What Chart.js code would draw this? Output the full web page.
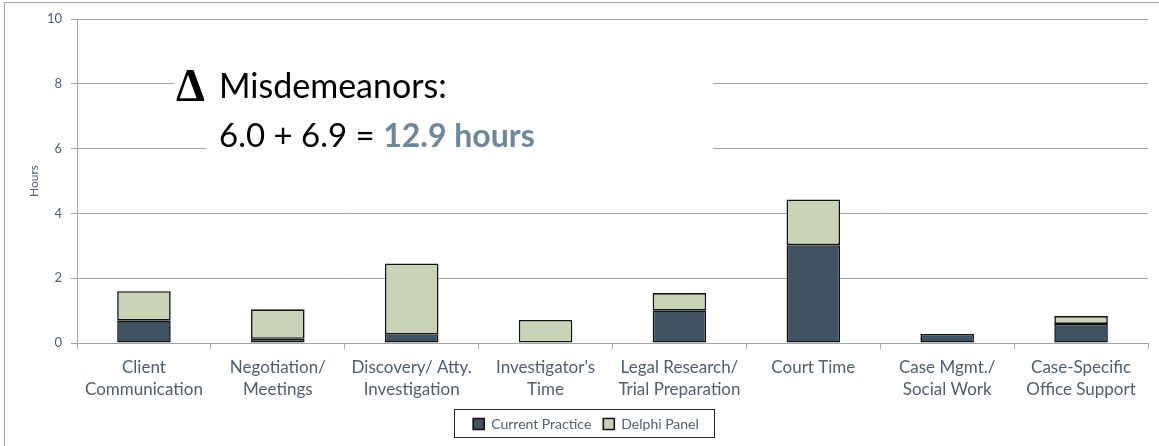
<!DOCTYPE html>
<html><head><meta charset="utf-8">
<script src="https://cdn.jsdelivr.net/npm/chart.js@4"></script>
<style>html,body{margin:0;padding:0;background:#fff;overflow:hidden}canvas{display:block}</style>
</head><body>
<canvas id="c" width="1159" height="446"></canvas>
<script>
const categories = [["Client","Communication"],["Negotiation/","Meetings"],["Discovery/ Atty.","Investigation"],["Investigator's","Time"],["Legal Research/","Trial Preparation"],["Court Time"],["Case Mgmt./","Social Work"],["Case-Specific","Office Support"]];
const currentPractice = [0.70, 0.13, 0.27, 0.00, 1.01, 3.02, 0.28, 0.59];
const delphiPanel     = [0.90, 0.91, 2.18, 0.71, 0.53, 1.41, -0.05, 0.24];
const seriesNames = ["Current Practice", "Delphi Panel"];
const yMin = 0, yMax = 10, yStep = 2;
const noteTitle = "Misdemeanors:";
const noteSum = "6.0 + 6.9 = ";
const noteTotal = "12.9 hours";
const deltaSymbol = "\u0394";

const FONT = "Lato";
const TEXT = "#4D5E6E";
const GRID = "#A3A3A3";
const LEGEND_SHIFT = 12;

const deco = {
  id: 'deco',
  afterLayout(chart) {
    const lg = chart.legend;
    if (lg) { lg.left += LEGEND_SHIFT; lg.right += LEGEND_SHIFT; }
  },
  beforeDraw(chart) {
    const ctx = chart.ctx;
    ctx.save();
    ctx.fillStyle = '#fff';
    ctx.fillRect(0, 0, chart.width, chart.height);
    ctx.strokeStyle = '#A6A6A6';
    ctx.lineWidth = 1;
    ctx.strokeRect(4.5, 2.5, chart.width + 10, chart.height + 10);
    ctx.restore();
  },
  beforeDatasetsDraw(chart) {
    const ctx = chart.ctx;
    ctx.save();
    ctx.fillStyle = '#fff';
    ctx.fillRect(174, 64, 33, 40);
    ctx.fillRect(206, 58, 507, 100);
    ctx.fillStyle = '#000';
    ctx.textBaseline = 'alphabetic';
    ctx.textAlign = 'left';
    ctx.font = "bold 46px 'Liberation Serif'";
    ctx.fillText(deltaSymbol, 176, 101);
    ctx.font = "34px " + FONT;
    ctx.fillText(noteTitle, 219, 98);
    ctx.font = "33px " + FONT;
    ctx.fillText(noteSum, 219, 147);
    const w = ctx.measureText(noteSum).width;
    ctx.font = "bold 32px " + FONT;
    ctx.fillStyle = '#6B889C';
    ctx.fillText(noteTotal, 219 + w, 147);
    ctx.restore();
  },
  afterDraw(chart) {
    const lg = chart.legend;
    if (!lg || !lg.legendHitBoxes || !lg.legendHitBoxes.length) return;
    const hb = lg.legendHitBoxes;
    let l = Infinity, r = -Infinity;
    hb.forEach(h => { l = Math.min(l, h.left); r = Math.max(r, h.left + h.width); });
    const cy = hb[0].top + hb[0].height / 2;
    const ctx = chart.ctx;
    ctx.save();
    ctx.strokeStyle = '#262626';
    ctx.lineWidth = 1;
    ctx.strokeRect(Math.round(l - 19) + 0.5, Math.round(cy - 15) + 0.5, Math.round(r - l + 34), 28);
    ctx.restore();
  }
};

new Chart(document.getElementById('c'), {
  type: 'bar',
  data: {
    labels: categories,
    datasets: [
      { label: seriesNames[0], data: currentPractice, backgroundColor: '#3F5363', borderColor: '#111', borderWidth: 1.6, borderSkipped: false },
      { label: seriesNames[1], data: delphiPanel, backgroundColor: '#C9D4B7', borderColor: '#111', borderWidth: 1.6, borderSkipped: false }
    ]
  },
  options: {
    responsive: false,
    animation: false,
    devicePixelRatio: 1,
    categoryPercentage: 1.0,
    barPercentage: 0.4,
    layout: { padding: { left: 0, right: 11, top: 19, bottom: 5 } },
    plugins: {
      legend: {
        position: 'bottom',
        maxHeight: 36,
        labels: {
          boxWidth: 11, boxHeight: 11, padding: 12,
          color: TEXT, font: { family: FONT, size: 14 }
        }
      },
      tooltip: { enabled: false }
    },
    scales: {
      x: {
        stacked: true,
        grid: { offset: true, drawOnChartArea: false, drawTicks: true, tickLength: 6, color: GRID },
        border: { color: GRID, width: 1 },
        ticks: { color: TEXT, font: { family: FONT, size: 17, lineHeight: 1.3 }, padding: 7, maxRotation: 0, autoSkip: false },
        afterFit(s) { s.height = 62; }
      },
      y: {
        stacked: true,
        min: yMin, max: yMax,
        ticks: { stepSize: yStep, color: TEXT, font: { family: FONT, size: 13 }, padding: 9 },
        grid: { color: GRID, tickLength: 6 },
        border: { color: GRID, width: 1 },
        title: { display: true, text: 'Hours', color: TEXT, font: { family: FONT, size: 12 }, padding: { top: 27, bottom: 0 } },
        afterFit(s) { s.width = 77; }
      }
    }
  },
  plugins: [deco]
});
</script>
</body></html>
